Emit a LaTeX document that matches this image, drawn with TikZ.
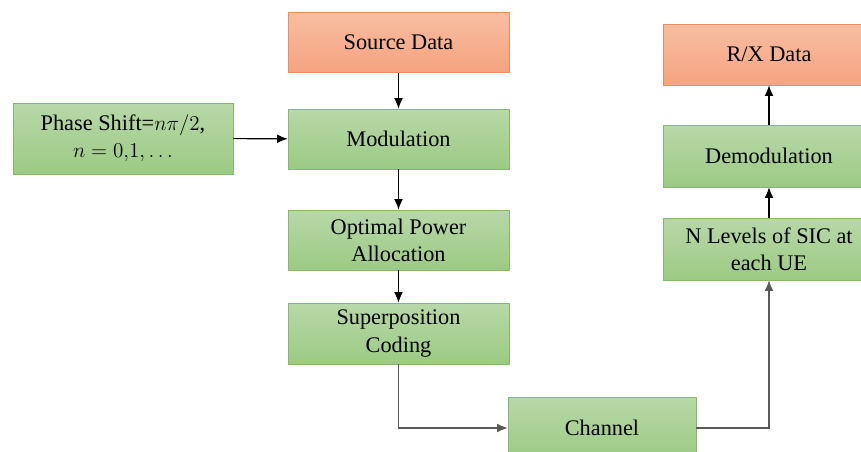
\documentclass[tikz,border=0pt]{standalone}
\usepackage{fontspec}
\setmainfont{Liberation Serif}
\usetikzlibrary{arrows.meta}
\definecolor{greentop}{RGB}{184,216,168}
\definecolor{greenbot}{RGB}{156,202,132}
\definecolor{greenline}{RGB}{132,186,104}
\definecolor{orangetop}{RGB}{248,190,162}
\definecolor{orangebot}{RGB}{245,163,128}
\definecolor{orangeline}{RGB}{241,140,92}
\begin{document}
\begin{tikzpicture}[x=0.02cm, y=-0.02cm]
      \fontsize{12.7}{15.5}\selectfont
      \tikzstyle{block}=[draw=greenline, top color=greentop, bottom color=greenbot, minimum width=4.42cm, minimum height=1.2cm, align=center, inner sep=2pt]
      \tikzstyle{datablock}=[block, draw=orangeline, top color=orangetop, bottom color=orangebot]
      \tikzstyle{arrow}=[-{Latex[length=6pt, width=5pt]}, line width=0.6pt]
      \clip (0,0) rectangle (861,452);
      \node[datablock] (src) at (398.5, 42.5) {Source Data};
      \node[block] (mod) at (398.5, 139) {Modulation};
      \node[block] (opa) at (398.5, 240) {Optimal Power\\Allocation};
      \node[block, minimum height=1.22cm] (sup) at (398.5, 333.5) {Superposition\\Coding};
      \node[block, minimum width=4.4cm, minimum height=1.42cm] (phase) at (123, 138.5) {Phase Shift=$n\pi/2$,\\$n=0{,}1,\ldots$};
      \node[block, minimum width=3.76cm, minimum height=1.24cm] (chan) at (602, 428) {Channel};
      \node[datablock, minimum width=4.24cm, minimum height=1.22cm] (rx) at (769, 54.5) {R/X Data};
      \node[block, minimum width=4.24cm, minimum height=1.24cm] (demod) at (769, 156) {Demodulation};
      \node[block, minimum width=4.24cm, minimum height=1.24cm] (sic) at (769, 249) {N Levels of SIC at\\each UE};

      \draw[arrow] (src) -- (mod);
      \draw[arrow] (mod) -- (opa);
      \draw[arrow] (opa) -- (sup);
      \draw[arrow] (phase) -- (mod);
      \draw[arrow, draw=black!65] (sup.south) |- (chan.west);
      \draw[arrow, draw=black!65] (chan.east) -| (sic.south);
      \draw[arrow] (sic) -- (demod);
      \draw[arrow] (demod) -- (rx);
    \end{tikzpicture}
\end{document}
